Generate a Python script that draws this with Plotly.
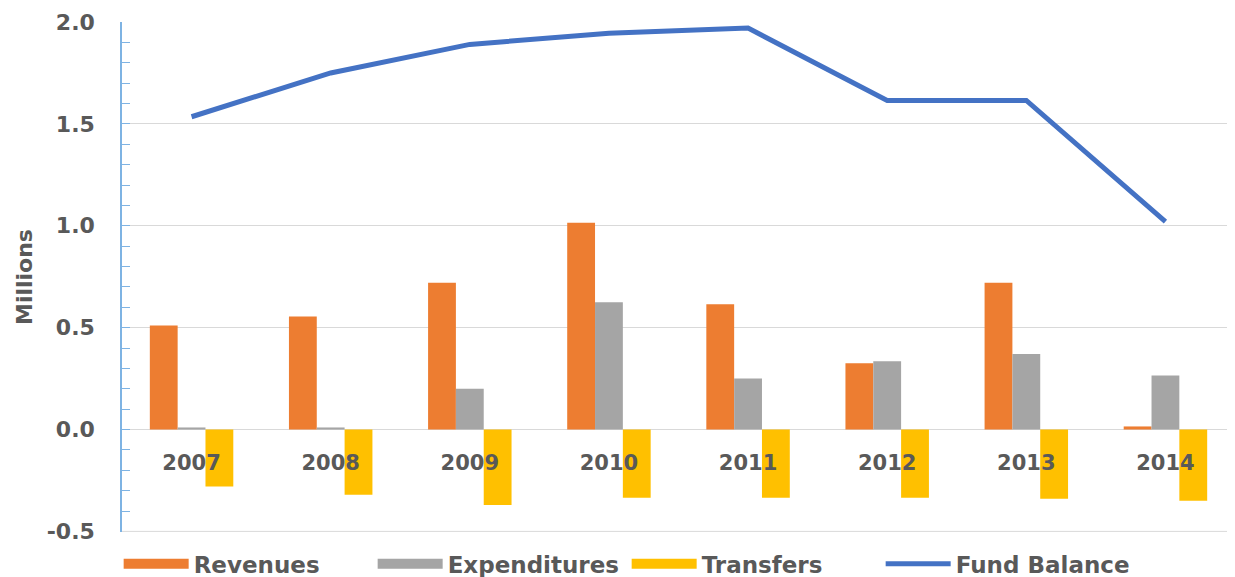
import plotly.graph_objects as go

# ------------------------------------------------------------
# DATA (millions)
# ------------------------------------------------------------

years = ["2007", "2008", "2009", "2010", "2011", "2012", "2013", "2014"]
revenues = [0.51, 0.555, 0.72, 1.015, 0.615, 0.325, 0.72, 0.015]
expenditures = [0.01, 0.01, 0.2, 0.625, 0.25, 0.335, 0.37, 0.265]
transfers = [-0.28, -0.32, -0.37, -0.335, -0.335, -0.335, -0.34, -0.35]
fund_balance = [1.535, 1.75, 1.89, 1.945, 1.97, 1.615, 1.615, 1.02]

y_tick_vals = [-0.5, 0.0, 0.5, 1.0, 1.5, 2.0]
y_tick_text = ["-0.5", "0.0", "0.5", "1.0", "1.5", "2.0"]

GRAY_TXT = "#595959"
FONT = "DejaVu Sans"
AXIS_BLUE = "#7EB3E3"
GRID = "#D9D9D9"

bar_series = [
    ("Revenues", revenues, "#ED7D31"),
    ("Expenditures", expenditures, "#A5A5A5"),
    ("Transfers", transfers, "#FFC000"),
]

fig = go.Figure()

# ------------------------------------------------------------
# BARS (legend handled by wide swatch entries below)
# ------------------------------------------------------------

for name, vals, color in bar_series:
    fig.add_trace(go.Bar(
        x=years,
        y=vals,
        name=name,
        marker=dict(color=color, line=dict(width=0)),
        showlegend=False,
    ))

# wide rectangular legend swatches, like the spreadsheet legend
for name, vals, color in bar_series:
    fig.add_trace(go.Scatter(
        x=[None],
        y=[None],
        mode="lines",
        name=name,
        line=dict(color=color, width=14),
    ))

# ------------------------------------------------------------
# LINE
# ------------------------------------------------------------

fig.add_trace(go.Scatter(
    x=years,
    y=fund_balance,
    mode="lines",
    name="Fund Balance",
    line=dict(color="#4472C4", width=5),
))

# bottom gridline at the range edge
fig.add_hline(y=-0.5, line=dict(color=GRID, width=1), layer="below")

# ------------------------------------------------------------
# LAYOUT
# (page body adds ~8px offset, margins compensate)
# ------------------------------------------------------------

fig.update_layout(
    width=1235,
    height=577,
    margin=dict(l=114, r=8, t=14, b=53, autoexpand=False),
    plot_bgcolor="white",
    paper_bgcolor="white",
    barmode="group",
    bargap=0.4,
    bargroupgap=0,
    font=dict(family=FONT, color=GRAY_TXT, size=20),
    showlegend=True,
    legend=dict(
        orientation="h",
        yanchor="top",
        y=-0.02,
        xanchor="left",
        x=-0.003,
        font=dict(family=FONT, size=23, color=GRAY_TXT, weight="bold"),
        itemwidth=65,
        entrywidth=174,
        entrywidthmode="pixels",
        traceorder="normal",
    ),
)

fig.update_xaxes(
    type="category",
    anchor="free",
    position=0.2,
    automargin=False,
    showline=False,
    showgrid=False,
    ticks="",
    ticklabelstandoff=18,
    tickfont=dict(family=FONT, size=21, color=GRAY_TXT, weight="bold"),
)

fig.update_yaxes(
    range=[-0.503, 2.0],
    tickmode="array",
    tickvals=y_tick_vals,
    ticktext=y_tick_text,
    automargin=False,
    showgrid=True,
    gridcolor=GRID,
    gridwidth=1,
    zeroline=True,
    zerolinecolor=GRID,
    zerolinewidth=1,
    showline=True,
    linecolor=AXIS_BLUE,
    linewidth=1.5,
    ticks="inside",
    ticklen=8,
    tickcolor=AXIS_BLUE,
    minor=dict(dtick=0.1, tick0=0, ticks="inside", ticklen=8, tickcolor=AXIS_BLUE, showgrid=False),
    tickfont=dict(family=FONT, size=22, color=GRAY_TXT, weight="bold"),
    ticklabelstandoff=21,
    title=dict(text="Millions", font=dict(family=FONT, size=22, color=GRAY_TXT, weight="bold"), standoff=8),
)

fig.write_html("out.html")
